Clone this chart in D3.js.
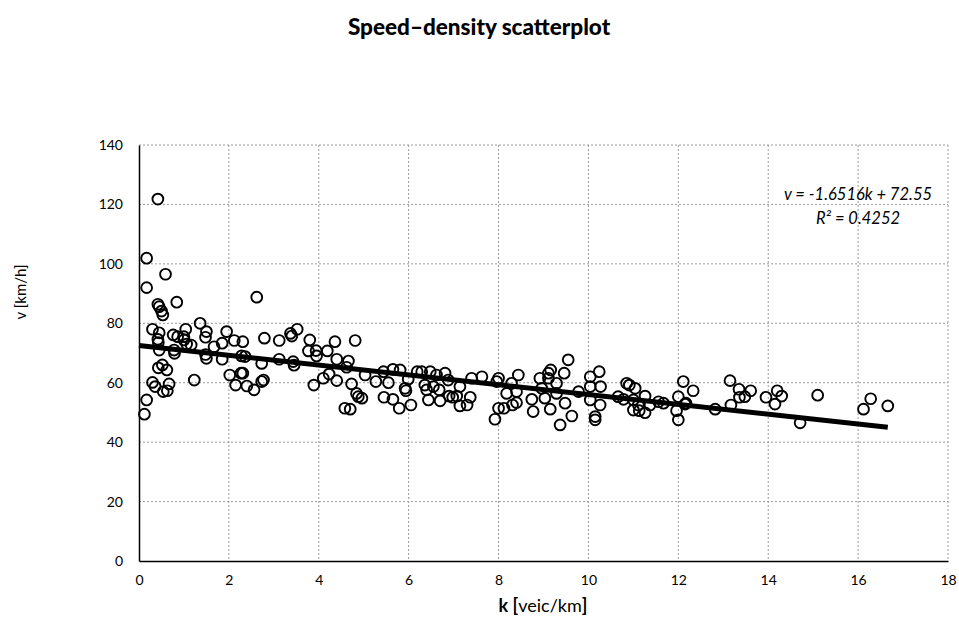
<!DOCTYPE html>
<html><head><meta charset="utf-8">
<script src="https://cdn.jsdelivr.net/npm/d3@7"></script>
<style>
body{margin:0;background:#fff;}
text{font-family:Lato,"Noto Sans",sans-serif;fill:#000;}
</style></head><body>
<svg id="c" width="959" height="624"></svg>
<script>
const densityK = [0.42,0.17,0.59,0.17,0.84,0.42,0.45,0.50,0.53,2.62,0.30,0.45,0.42,0.43,0.76,0.86,1.04,1.00,1.00,1.06,0.79,0.78,0.45,1.16,1.36,1.50,1.48,1.67,1.50,1.48,1.95,1.85,2.12,1.85,2.28,0.52,0.43,0.62,1.23,0.30,0.36,0.54,0.63,0.67,2.02,2.15,2.27,0.17,0.12,2.31,2.79,3.12,3.37,3.40,3.52,3.80,4.36,4.81,3.77,3.94,3.95,4.19,4.40,4.66,4.62,2.36,2.73,3.12,3.43,3.45,2.31,2.40,2.56,2.73,2.77,3.89,4.10,4.23,4.40,4.73,4.84,4.88,4.96,4.58,4.70,5.03,5.27,5.55,5.44,5.65,5.81,5.99,5.92,5.94,5.45,5.65,5.79,6.05,6.19,6.29,6.48,6.62,6.81,6.36,6.40,6.55,6.68,6.44,6.70,6.90,6.98,7.07,7.14,7.14,7.30,7.37,7.40,7.63,6.88,8.00,7.96,8.29,8.44,8.18,8.40,8.00,8.12,7.92,8.31,8.40,8.74,8.77,8.92,9.11,9.16,9.11,8.96,9.03,9.15,9.29,9.29,9.46,9.55,9.48,9.37,9.63,9.78,10.04,10.24,10.04,10.27,10.04,10.26,10.15,10.15,10.85,10.91,11.04,10.66,10.78,11.00,11.26,11.11,11.00,11.13,11.26,11.37,11.56,11.67,12.11,12.33,12.00,12.17,11.96,12.00,12.15,12.82,13.15,13.35,13.36,13.48,13.61,13.17,13.95,14.20,14.30,14.15,14.71,15.10,16.12,16.28,16.66];
const speedV = [121.8,101.9,96.5,92.0,87.1,86.4,85.6,84.1,82.8,88.8,78.0,76.8,74.6,73.5,76.1,75.5,78.0,75.5,74.4,73.0,69.9,71.0,71.0,72.7,80.0,77.2,75.3,72.1,68.2,69.5,77.2,73.3,74.2,67.9,69.0,66.0,65.0,64.3,60.9,60.1,58.7,57.0,57.3,59.6,62.6,59.2,63.2,54.2,49.4,73.8,75.0,74.2,76.6,75.7,78.0,74.4,73.8,74.2,70.7,70.8,69.0,70.7,67.9,67.3,65.2,68.8,66.5,67.9,67.1,65.9,63.2,58.9,57.6,60.4,60.9,59.2,61.5,62.9,60.7,59.6,56.4,55.3,54.8,51.4,51.1,62.6,60.4,60.0,63.7,64.5,64.3,61.2,58.1,57.3,55.1,54.4,51.4,52.5,63.7,63.7,63.7,62.6,63.2,59.2,57.6,58.7,57.6,54.2,53.9,55.5,55.1,55.5,58.7,52.2,52.5,55.1,61.5,62.0,60.9,61.5,60.4,59.8,62.6,56.4,57.0,51.4,51.4,47.7,52.5,53.3,54.4,50.3,61.5,63.2,64.3,61.5,58.1,54.8,51.1,59.8,56.4,63.2,67.7,53.1,45.8,48.8,57.0,62.0,63.7,58.7,58.7,54.2,52.5,48.6,47.5,59.8,59.2,58.1,55.3,54.4,54.2,55.5,52.5,50.8,50.6,49.9,52.5,53.6,53.1,60.4,57.3,55.3,53.1,50.6,47.5,52.8,51.1,60.7,57.8,55.1,55.3,57.3,52.5,55.1,57.3,55.5,52.8,46.5,55.8,51.1,54.6,52.2];
const xTicks = [0,2,4,6,8,10,12,14,16,18];
const yTicks = [0,20,40,60,80,100,120,140];
const trendSlope = -1.6516, trendIntercept = 72.55;
const eqLabel = "v = -1.6516k + 72.55";
const r2Label = "R² = 0.4252";

const svg = d3.select("#c");
const L=139, R=948, T=145, B=561;
const x = d3.scaleLinear().domain([0,18]).range([L,R]);
const y = d3.scaleLinear().domain([0,140]).range([B,T]);

// gridlines
const g = svg.append("g");
g.selectAll(".gx").data(xTicks.filter(d=>d>0)).join("line")
  .attr("x1",d=>x(d)).attr("x2",d=>x(d)).attr("y1",T).attr("y2",B)
  .attr("stroke","#9a9a9a").attr("stroke-width",1).attr("stroke-dasharray","2,2");
g.selectAll(".gy").data(yTicks.filter(d=>d>0)).join("line")
  .attr("x1",L).attr("x2",R).attr("y1",d=>y(d)).attr("y2",d=>y(d))
  .attr("stroke","#9a9a9a").attr("stroke-width",1).attr("stroke-dasharray","2,2");

// axes
const xAxis = svg.append("g").attr("transform",`translate(0,${B})`)
  .call(d3.axisBottom(x).tickValues(xTicks).tickSize(0).tickPadding(14));
const yAxis = svg.append("g").attr("transform",`translate(${L},0)`)
  .call(d3.axisLeft(y).tickValues(yTicks).tickSize(0).tickPadding(16));
[xAxis,yAxis].forEach(a=>{
  a.select(".domain").attr("stroke","#000").attr("stroke-width",1.5);
  a.selectAll("text").attr("font-size",14).attr("font-family","Lato,sans-serif");
});

// points
const pts = densityK.map((k,i)=>({k, v: speedV[i]}));
svg.append("g").selectAll("circle").data(pts).join("circle")
  .attr("cx",d=>x(d.k)).attr("cy",d=>y(d.v)).attr("r",5.4)
  .attr("fill","none").attr("stroke","#000").attr("stroke-width",1.9);

// trendline
const kMax = d3.max(densityK);
svg.append("line")
  .attr("x1",x(0)).attr("y1",y(trendIntercept))
  .attr("x2",x(kMax)).attr("y2",y(trendIntercept+trendSlope*kMax))
  .attr("stroke","#000").attr("stroke-width",5).attr("stroke-linecap","butt");

// equation
svg.append("text").attr("x",858).attr("y",200).attr("text-anchor","middle")
  .attr("font-size",16.5).attr("font-style","italic").text(eqLabel);
svg.append("text").attr("x",858).attr("y",224).attr("text-anchor","middle")
  .attr("font-size",16.5).attr("font-style","italic").text(r2Label);

// title
svg.append("text").attr("x",479).attr("y",35).attr("text-anchor","middle")
  .attr("font-size",22.5).attr("font-weight","900").text("Speed–density scatterplot");

// axis titles
const xt = svg.append("text").attr("x",543).attr("y",612).attr("text-anchor","middle").attr("font-size",18);
xt.append("tspan").attr("font-weight","bold").text("k [");
xt.append("tspan").text("veic/km");
xt.append("tspan").attr("font-weight","bold").text("]");
svg.append("text").attr("transform","translate(26,292) rotate(-90)").attr("text-anchor","middle")
  .attr("font-size",15).text("v [km/h]");
</script></body></html>
